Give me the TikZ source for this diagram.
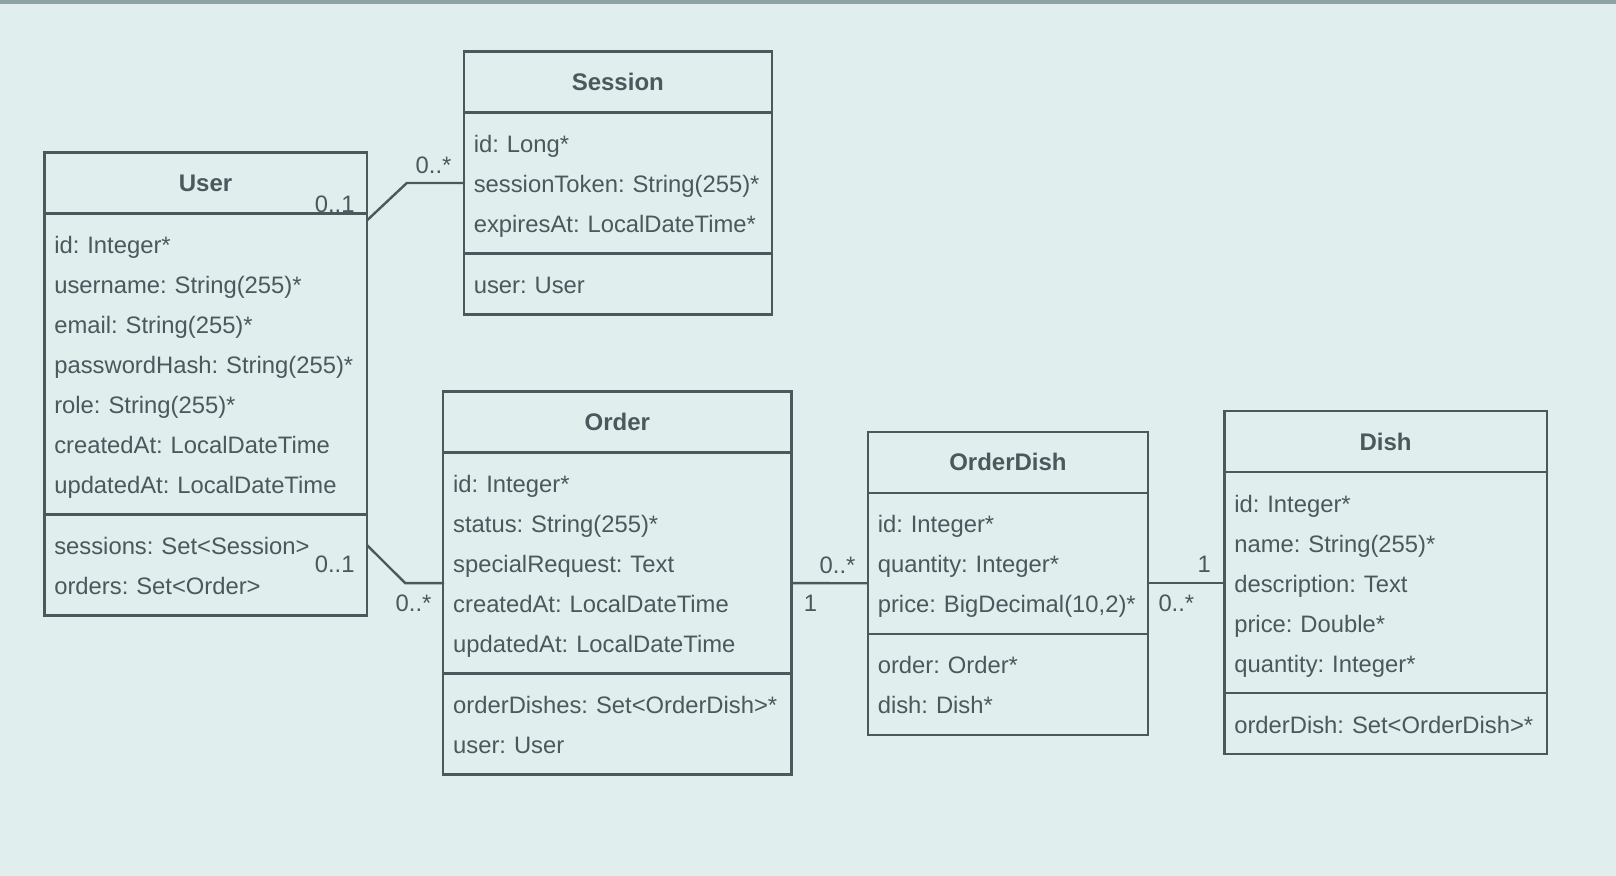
\documentclass[tikz,border=0pt]{standalone}
\usepackage{fontspec}
\setmainfont{Liberation Sans}
\usetikzlibrary{positioning}
\definecolor{bg}{HTML}{E0EEEE}
\definecolor{bar}{HTML}{8FA3A5}
\definecolor{ink}{HTML}{4B585C}

\begin{document}
\frenchspacing
\begin{tikzpicture}[
  font=\fontsize{11.9}{14.3}\selectfont, x=0.5pt, y=0.5pt,
  line cap=round, text=ink,
  hd/.style={draw=ink, line width=1.2pt, outer sep=0pt, inner sep=0pt,
             minimum height=30.5pt, font=\fontsize{12}{14.4}\selectfont\bfseries},
  sec/.style={draw=ink, line width=1.2pt, outer sep=0pt, align=left,
              inner xsep=5pt, inner ysep=5.25pt,
              font=\fontsize{11.9}{20}\selectfont,
              execute at begin node={\hyphenpenalty=10000\rule{0pt}{14.8pt}},
              execute at end node={\rule[-5.2pt]{0pt}{5.2pt}}},
  ln/.style={draw=ink, line width=1.2pt},
  lb/.style={inner sep=0pt},
]
\fill[bg] (0,0) rectangle (1616,-876);
\fill[bar] (0,0) rectangle (1616,-4.5);

\node[hd, minimum width=161.3pt, anchor=north west] (usr) at (44.3,-152.5) {User};
\node[sec, text width=151.3pt, below=0pt of usr] (usr-a) {id: Integer*\\username: String(255)*\\email: String(255)*\\passwordHash: String(255)*\\role: String(255)*\\createdAt: LocalDateTime\\updatedAt: LocalDateTime};
\node[sec, text width=151.3pt, below=0pt of usr-a] (usr-o) {sessions: Set<Session>\\orders: Set<Order>};

\node[hd, minimum width=154pt, anchor=north west] (ses) at (463.8,-51.5) {Session};
\node[sec, text width=144pt, below=0pt of ses] (ses-a) {id: Long*\\sessionToken: String(255)*\\expiresAt: LocalDateTime*};
\node[sec, text width=144pt, below=0pt of ses-a] (ses-o) {user: User};

\node[hd, minimum width=174.15pt, anchor=north west] (ord) at (443.2,-391.6) {Order};
\node[sec, text width=164.15pt, below=0pt of ord] (ord-a) {id: Integer*\\status: String(255)*\\specialRequest: Text\\createdAt: LocalDateTime\\updatedAt: LocalDateTime};
\node[sec, text width=164.15pt, below=0pt of ord-a] (ord-o) {orderDishes: Set<OrderDish>*\\user: User};

\node[hd, minimum width=140.15pt, anchor=north west] (ods) at (867.8,-431.8) {OrderDish};
\node[sec, text width=130.15pt, below=0pt of ods] (ods-a) {id: Integer*\\quantity: Integer*\\price: BigDecimal(10,2)*};
\node[sec, text width=130.15pt, below=0pt of ods-a] (ods-o) {order: Order*\\dish: Dish*};

\node[hd, minimum width=161.3pt, anchor=north west] (dsh) at (1224.3,-411.2) {Dish};
\node[sec, text width=151.3pt, below=0pt of dsh] (dsh-a) {id: Integer*\\name: String(255)*\\description: Text\\price: Double*\\quantity: Integer*};
\node[sec, text width=151.3pt, below=0pt of dsh-a] (dsh-o) {orderDish: Set<OrderDish>*};

\draw[ln] ([yshift=-3.5pt]usr-a.north east) -- ([xshift=-28.5pt]ses-a.west) -- (ses-a.west);
\draw[ln] ([yshift=10pt]usr-o.east) -- ([xshift=-19pt,yshift=-10pt]ord-a.west) -- ([yshift=-10pt]ord-a.west);
\draw[ln] ([yshift=-10pt]ord-a.east) -- ([yshift=-10pt]ods-a.west);
\draw[ln] (dsh-a.west -| ods-a.east) -- (dsh-a.west);

\node[lb, anchor=base east] (m1) at ([xshift=-6pt,yshift=0.5pt]usr.south east) {0..1};
\node[lb, anchor=base east] (m2) at ([xshift=-6pt,yshift=4.5pt]ses-a.west) {0..*};
\node[lb, anchor=base east] (m3) at ([xshift=-6pt,yshift=-4pt]usr-o.east) {0..1};
\node[lb, anchor=base east] (m4) at ([xshift=-5.7pt,yshift=-24pt]ord-a.west) {0..*};
\node[lb, anchor=base west] (m5) at ([xshift=6pt,yshift=-24pt]ord-a.east) {1};
\node[lb, anchor=base east] (m6) at ([xshift=-6pt,yshift=-5pt]ods-a.west) {0..*};
\node[lb, anchor=base west] (m7) at ([xshift=5pt,yshift=-24pt]ods-a.east) {0..*};
\node[lb, anchor=base east] (m8) at ([xshift=-6.5pt,yshift=5pt]dsh-a.west) {1};
\end{tikzpicture}
\end{document}
